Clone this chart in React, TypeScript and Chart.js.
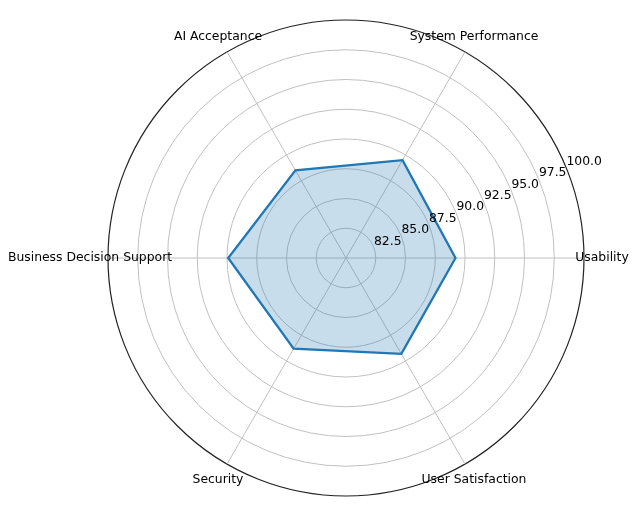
import { useEffect, useRef } from "react";
import { Chart, registerables } from "chart.js";

Chart.register(...registerables);

// Categories in the reference's counter-clockwise order, starting at the right (east)
const categories = [
  "Usability",
  "System Performance",
  "AI Acceptance",
  "Business Decision Support",
  "Security",
  "User Satisfaction",
];
const scores = [89.2, 89.5, 88.5, 89.9, 88.8, 89.3];
const tickValues = [82.5, 85, 87.5, 90, 92.5, 95, 97.5, 100];
const tickLabels = ["82.5", "85.0", "87.5", "90.0", "92.5", "95.0", "97.5", "100.0"];
const rMin = 80;
const rMax = 100;
const rStep = 2.5;

// Chart.js runs clockwise; reorder so the layout is counter-clockwise like the reference
const order = categories.map((_, i) => (categories.length - i) % categories.length);
const chartLabels = order.map((k) => categories[k]);
const chartValues = order.map((k) => scores[k]);

const FONT = '12.4px "DejaVu Sans", "Liberation Sans", sans-serif';
const TEXT = "#000000";

const textPlugin = {
  id: "polarText",
  afterDraw(chart: any) {
    const scale = chart.scales.r;
    const ctx = chart.ctx;
    ctx.save();
    ctx.font = FONT;
    ctx.fillStyle = TEXT;
    // category labels, centered just outside the outer circle
    ctx.textAlign = "center";
    ctx.textBaseline = "middle";
    chartLabels.forEach((lab, i) => {
      const p = scale.getPointPosition(i, scale.drawingArea + 18);
      ctx.fillText(lab, p.x, p.y);
    });
    // radial tick labels along the 22.5 degree direction
    const ang = (22.5 * Math.PI) / 180;
    ctx.textAlign = "left";
    ctx.textBaseline = "alphabetic";
    tickValues.forEach((v, i) => {
      const d = scale.getDistanceFromCenterForValue(v);
      const x = scale.xCenter + d * Math.cos(ang);
      const y = scale.yCenter - d * Math.sin(ang);
      ctx.fillText(tickLabels[i], x + 0.5, y - 2);
    });
    ctx.restore();
  },
};

export default function App() {
  const ref = useRef<HTMLCanvasElement | null>(null);
  useEffect(() => {
    if (!ref.current) return;
    const chart = new Chart(ref.current, {
      type: "radar",
      data: {
        labels: chartLabels,
        datasets: [
          {
            data: chartValues,
            fill: true,
            backgroundColor: "rgba(31,119,180,0.25)",
            borderColor: "#1f77b4",
            borderWidth: 2.3,
            pointRadius: 0,
            pointHoverRadius: 0,
            tension: 0,
          },
        ],
      },
      options: {
        animation: false,
        responsive: false,
        devicePixelRatio: 1,
        layout: { padding: { left: 108, right: 53, top: 20, bottom: 10 } },
        plugins: {
          legend: { display: false },
          tooltip: { enabled: false },
        },
        scales: {
          r: {
            min: rMin,
            max: rMax,
            startAngle: 90,
            ticks: { display: false, stepSize: rStep },
            pointLabels: { display: false },
            grid: {
              circular: true,
              color: (c: any) => (c.tick && c.tick.value === rMax ? "#222222" : "#c0c0c0"),
              lineWidth: (c: any) => (c.tick && c.tick.value === rMax ? 1.2 : 1),
            },
            angleLines: { display: true, color: "#c0c0c0", lineWidth: 1 },
          },
        },
      },
      plugins: [textPlugin],
    });
    return () => chart.destroy();
  }, []);
  return (
    <div style={{ position: "absolute", left: 0, top: 0, width: 637, height: 506, background: "#fff" }}>
      <canvas ref={ref} width={637} height={506} style={{ display: "block" }} />
    </div>
  );
}
